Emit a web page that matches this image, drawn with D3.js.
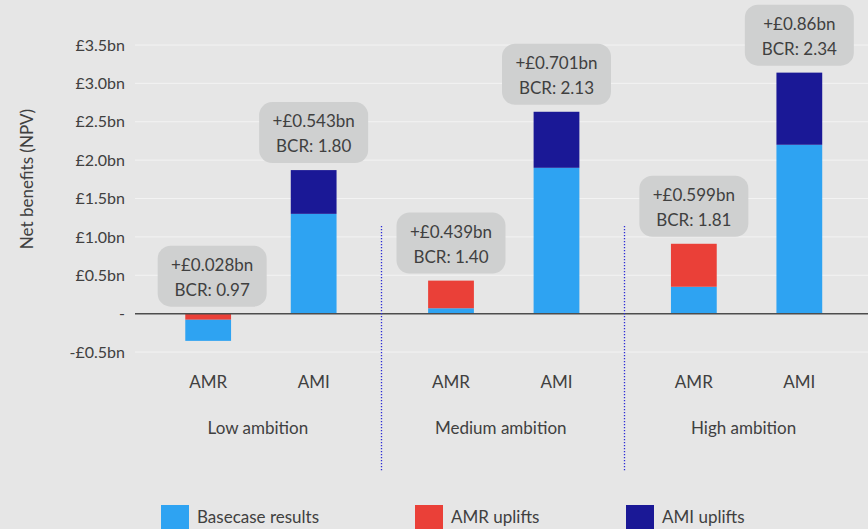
<!DOCTYPE html>
<html lang="en">
<head>
<meta charset="UTF-8">
<script src="https://d3js.org/d3.v7.min.js"></script>
<style>
  body { margin: 0; background: #e6e6e6; }
  svg { display: block; font-family: Lato, "Open Sans", sans-serif; }
</style>
</head>
<body>
<svg id="chart" width="868" height="529"></svg>
<script>
// data
const groups = ["Low ambition", "Medium ambition", "High ambition"];
const subs = ["AMR", "AMI"];
const basecase  = [-0.275, 1.30, 0.07, 1.90, 0.35, 2.20];
const amrUplift = [-0.08, 0, 0.36, 0, 0.56, 0];
const amiUplift = [0, 0.57, 0, 0.73, 0, 0.94];
const upliftLabels = ["+£0.028bn", "+£0.543bn", "+£0.439bn", "+£0.701bn", "+£0.599bn", "+£0.86bn"];
const bcrLabels = ["BCR: 0.97", "BCR: 1.80", "BCR: 1.40", "BCR: 2.13", "BCR: 1.81", "BCR: 2.34"];
const yTicks = [-0.5, 0, 0.5, 1.0, 1.5, 2.0, 2.5, 3.0, 3.5];
const seriesNames = ["Basecase results", "AMR uplifts", "AMI uplifts"];
const colors = ["#2ea3f2", "#ea4038", "#1a1896"];

const svg = d3.select("#chart");
const W = 868;
const left = 139.5;
const gridStart = 135;

const y = d3.scaleLinear().domain([-0.5, 3.5]).range([352, 45]);
const xGroup = d3.scaleBand().domain(groups).range([left, W]);
const xSub = d3.scaleBand().domain(subs).range([0, xGroup.bandwidth()])
  .paddingInner(0.566).paddingOuter(0.434);

// gridlines
svg.append("g").selectAll("line").data(yTicks.filter(d => d !== 0)).join("line")
  .attr("x1", gridStart).attr("x2", W)
  .attr("y1", d => y(d)).attr("y2", d => y(d))
  .attr("stroke", "#f3f3f3").attr("stroke-width", 1);

// y axis labels
const yAxis = svg.append("g").attr("transform", `translate(125,0)`)
  .call(d3.axisLeft(y).tickValues(yTicks).tickSize(0)
    .tickFormat(d => d === 0 ? "-" : (d < 0 ? "-£" : "£") + Math.abs(d).toFixed(1) + "bn"));
yAxis.select(".domain").remove();
yAxis.selectAll("text").attr("fill", "#404040").attr("x", 0).style("font-size", "16px")
  .style("font-family", "Lato, sans-serif");

svg.append("text")
  .attr("transform", "translate(33,179) rotate(-90)")
  .attr("text-anchor", "middle")
  .attr("fill", "#404040").style("font-size", "17px")
  .text("Net benefits (NPV)");

// build bars
const bars = [];
groups.forEach((g, gi) => {
  subs.forEach((s, si) => {
    const i = gi * 2 + si;
    const vals = [basecase[i], amrUplift[i], amiUplift[i]];
    let pos = 0, neg = 0;
    const segs = [];
    vals.forEach((v, k) => { if (v > 0) { segs.push({k, y0: pos, y1: pos + v}); pos += v; } });
    // negatives: uplift sits next to zero, basecase below it
    [1, 2, 0].forEach(k => { const v = vals[k]; if (v < 0) { segs.push({k, y0: neg, y1: neg + v}); neg += v; } });
    bars.push({g, s, i, segs, top: pos});
  });
});

const bx = d => xGroup(d.g) + xSub(d.s);
const bw = xSub.bandwidth();

const barG = svg.append("g");
bars.forEach(b => {
  barG.selectAll(null).data(b.segs).join("rect")
    .attr("x", bx(b)).attr("width", bw)
    .attr("y", d => y(Math.max(d.y0, d.y1)))
    .attr("height", d => Math.abs(y(d.y0) - y(d.y1)))
    .attr("fill", d => colors[d.k]);
});

// zero line
svg.append("line").attr("x1", gridStart).attr("x2", W)
  .attr("y1", y(0)).attr("y2", y(0))
  .attr("stroke", "#4d4d4d").attr("stroke-width", 1.5);

// group dividers
[1, 2].forEach(gi => {
  const xx = Math.round(xGroup(groups[gi])) - 0.5;
  svg.append("line").attr("x1", xx).attr("x2", xx).attr("y1", 226).attr("y2", 472)
    .attr("stroke", "#2b2bd6").attr("stroke-width", 1.3).attr("stroke-dasharray", "1.3,1.7");
});

// annotation boxes
const boxW = 109, boxH = 61;
bars.forEach(b => {
  const cx = bx(b) + bw / 2 + (b.i === 0 ? 4 : 0);
  const bottom = y(b.top) - 7;
  const gA = svg.append("g");
  gA.append("rect").attr("x", cx - boxW / 2).attr("y", bottom - boxH)
    .attr("width", boxW).attr("height", boxH).attr("rx", 13)
    .attr("fill", "#cfd0d0");
  gA.append("text").attr("x", cx).attr("y", bottom - boxH + 25)
    .attr("text-anchor", "middle").attr("fill", "#404040").style("font-size", "17px")
    .text(upliftLabels[b.i]);
  gA.append("text").attr("x", cx).attr("y", bottom - boxH + 50)
    .attr("text-anchor", "middle").attr("fill", "#404040").style("font-size", "17px")
    .text(bcrLabels[b.i]);
});

// category labels
bars.forEach(b => {
  svg.append("text").attr("x", bx(b) + bw / 2).attr("y", 388)
    .attr("text-anchor", "middle").attr("fill", "#404040").style("font-size", "17px")
    .text(b.s);
});
groups.forEach(g => {
  svg.append("text").attr("x", xGroup(g) + xGroup.bandwidth() / 2 - 3).attr("y", 434)
    .attr("text-anchor", "middle").attr("fill", "#404040").style("font-size", "17px")
    .text(g);
});

// legend
const legX = [161, 415, 626];
seriesNames.forEach((n, k) => {
  svg.append("rect").attr("x", legX[k]).attr("y", 505).attr("width", 28).attr("height", 24)
    .attr("fill", colors[k]);
  svg.append("text").attr("x", legX[k] + 36).attr("y", 523)
    .attr("fill", "#404040").style("font-size", "17px").text(n);
});
</script>
</body>
</html>
